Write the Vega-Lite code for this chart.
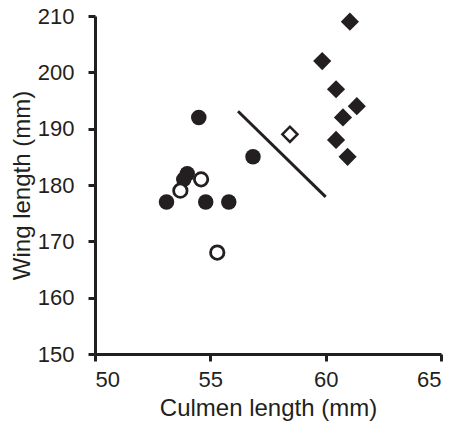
{
  "$schema": "https://vega.github.io/schema/vega-lite/v6.json",
  "autosize": "none",
  "width": 346,
  "height": 338,
  "padding": {"left": 95, "top": 16, "right": 16, "bottom": 79},
  "background": "white",
  "config": {
    "view": {"stroke": null},
    "font": "Liberation Sans",
    "axis": {
      "grid": false,
      "domainColor": "#231f20",
      "domainWidth": 3,
      "tickColor": "#231f20",
      "tickWidth": 3,
      "tickSize": 7,
      "labelFont": "Liberation Sans",
      "labelFontSize": 22,
      "labelColor": "#231f20",
      "titleFont": "Liberation Sans",
      "titleFontSize": 24,
      "titleFontWeight": "normal",
      "titleColor": "#231f20"
    }
  },
  "datasets": {
    "birds": [
      {"culmen": 54.5, "wing": 192, "kind": "filled circle"},
      {"culmen": 56.85, "wing": 185, "kind": "filled circle"},
      {"culmen": 54.0, "wing": 182, "kind": "filled circle"},
      {"culmen": 53.85, "wing": 181, "kind": "filled circle"},
      {"culmen": 53.1, "wing": 177, "kind": "filled circle"},
      {"culmen": 54.8, "wing": 177, "kind": "filled circle"},
      {"culmen": 55.8, "wing": 177, "kind": "filled circle"},
      {"culmen": 54.6, "wing": 181, "kind": "open circle"},
      {"culmen": 53.7, "wing": 179, "kind": "open circle"},
      {"culmen": 55.3, "wing": 168, "kind": "open circle"},
      {"culmen": 61.05, "wing": 209, "kind": "filled diamond"},
      {"culmen": 59.85, "wing": 202, "kind": "filled diamond"},
      {"culmen": 60.45, "wing": 197, "kind": "filled diamond"},
      {"culmen": 61.35, "wing": 194, "kind": "filled diamond"},
      {"culmen": 60.75, "wing": 192, "kind": "filled diamond"},
      {"culmen": 60.45, "wing": 188, "kind": "filled diamond"},
      {"culmen": 60.95, "wing": 185, "kind": "filled diamond"},
      {"culmen": 58.45, "wing": 189, "kind": "open diamond"}
    ],
    "divider": [
      {"x1": 56.2, "y1": 193.1, "x2": 60.0, "y2": 177.9}
    ]
  },
  "encoding": {
    "x": {
      "field": "culmen", "type": "quantitative",
      "scale": {"domain": [50, 65], "nice": false, "zero": false},
      "axis": {"values": [50, 55, 60, 65], "title": "Culmen length (mm)", "labelPadding": 8, "titlePadding": 6}
    },
    "y": {
      "field": "wing", "type": "quantitative",
      "scale": {"domain": [150, 210], "nice": false, "zero": false},
      "axis": {"values": [150, 160, 170, 180, 190, 200, 210], "title": "Wing length (mm)", "labelPadding": 14, "titlePadding": 3}
    }
  },
  "layer": [
    {
      "data": {"name": "divider"},
      "mark": {"type": "rule", "color": "#231f20", "strokeWidth": 3},
      "encoding": {
        "x": {"field": "x1", "type": "quantitative"},
        "y": {"field": "y1", "type": "quantitative"},
        "x2": {"field": "x2"},
        "y2": {"field": "y2"}
      }
    },
    {
      "data": {"name": "birds"},
      "transform": [{"filter": "datum.kind === 'filled circle'"}],
      "mark": {"type": "point", "shape": "circle", "filled": true, "color": "#231f20", "opacity": 1, "size": 240}
    },
    {
      "data": {"name": "birds"},
      "transform": [{"filter": "datum.kind === 'open circle'"}],
      "mark": {"type": "point", "shape": "circle", "filled": false, "fill": "white", "fillOpacity": 1, "stroke": "#231f20", "strokeWidth": 2.8, "opacity": 1, "size": 180}
    },
    {
      "data": {"name": "birds"},
      "transform": [{"filter": "datum.kind === 'filled diamond'"}],
      "mark": {"type": "point", "shape": "diamond", "filled": true, "color": "#231f20", "opacity": 1, "size": 330}
    },
    {
      "data": {"name": "birds"},
      "transform": [{"filter": "datum.kind === 'open diamond'"}],
      "mark": {"type": "point", "shape": "diamond", "filled": false, "fill": "white", "fillOpacity": 1, "stroke": "#231f20", "strokeWidth": 2.5, "opacity": 1, "size": 230}
    }
  ]
}
